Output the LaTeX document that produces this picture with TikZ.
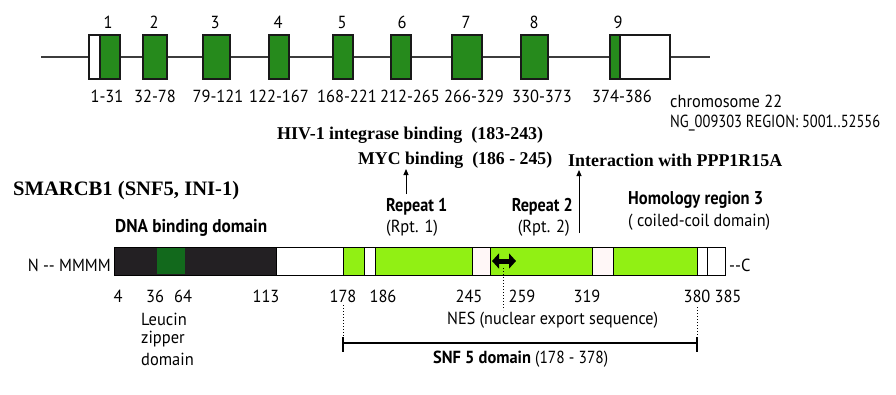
\documentclass[tikz,border=0pt]{standalone}
\usepackage{fontspec}
\usepackage{graphicx}
\setmainfont{Liberation Serif}
\setsansfont{PT Sans}
\usetikzlibrary{arrows.meta}
\definecolor{exgreen}{RGB}{38,138,28}
\definecolor{dkgreen}{RGB}{18,105,28}
\definecolor{lime}{RGB}{145,240,20}
\definecolor{dkbar}{RGB}{35,32,35}
\definecolor{gline}{RGB}{60,60,60}
\newfontfamily\rsf[FakeStretch=0.94]{PT Sans}
\newcommand\fitto[2]{\resizebox{#1}{\height}{#2}}
\tikzset{
  exon/.style={draw=black!90,line width=1.1pt,fill=exgreen,inner sep=0pt,minimum height=44pt},
  utr/.style={draw=black!90,line width=1.1pt,fill=white,inner sep=0pt,minimum height=44pt},
  lbl/.style={font=\rsf\fontsize{17.5}{20}\selectfont,inner sep=0pt},
  blbl/.style={font=\sffamily\bfseries\fontsize{18.5}{20}\selectfont,inner sep=0pt},
  slbl/.style={font=\rmfamily\bfseries\fontsize{18}{20}\selectfont,inner sep=0pt},
  seg/.style={draw=black,line width=1pt,inner sep=0pt,minimum height=28pt},
  uparrow/.style={-{Triangle[length=6pt,width=5pt]},line width=1pt},
  dotline/.style={dotted,line width=1pt},
}
\begin{document}
\begin{tikzpicture}[x=1pt,y=-1pt]
\useasboundingbox (0,0) rectangle (896,394);
% gene line
\coordinate (gl) at (41,57);
\coordinate (gr) at (710,57);
\draw[gline,line width=1.3pt] (gl) -- (gr);
% exons
\node[utr,minimum width=11pt] (u1) at (94.5,57) {};
\node[exon,minimum width=20pt] (e1) at (110,57) {};
\node[exon,minimum width=24pt] (e2) at (155,57) {};
\node[exon,minimum width=27pt] (e3) at (216.5,57) {};
\node[exon,minimum width=20pt] (e4) at (279,57) {};
\node[exon,minimum width=20pt] (e5) at (343,57) {};
\node[exon,minimum width=20pt] (e6) at (401,57) {};
\node[exon,minimum width=30pt] (e7) at (467,57) {};
\node[exon,minimum width=27pt] (e8) at (534.5,57) {};
\node[exon,minimum width=10pt] (e9) at (615,57) {};
\node[utr,minimum width=50pt] (u9) at (645,57) {};
% exon numbers
\foreach \n/\x in {1/108,2/154,3/215,4/278,5/342,6/402,7/466,8/534,9/618}
  \node[lbl] (n\n) at (\x,22) {\n};
\foreach \i/\t/\x in {1/1-31/107,2/32-78/155,3/79-121/218,4/122-167/279,5/168-221/347,6/212-265/410,7/266-329/474,8/330-373/542,9/374-386/622}
  \node[lbl] (r\i) at (\x,96) {\t};
\node[lbl,anchor=west] (chr) at (670,101) {\fitto{112pt}{chromosome 22}};
\node[lbl,anchor=west] (ng) at (670,123) {\fitto{210pt}{NG\_009303 REGION: 5001..52556}};
% binding labels
\node[slbl,anchor=west] (hiv) at (277,135) {\fitto{266pt}{HIV-1 integrase binding\ \ (183-243)}};
\node[slbl,anchor=west] (myc) at (358,160) {\fitto{194pt}{MYC binding\ \ (186 - 245)}};
\node[slbl,anchor=west] (ppp) at (568,160) {\fitto{214pt}{Interaction with PPP1R15A}};
\node[font=\rmfamily\bfseries\fontsize{20.5}{23}\selectfont,inner sep=0pt,anchor=west] (title) at (13,191) {\fitto{226pt}{SMARCB1 (SNF5, INI-1)}};
\node[blbl,anchor=west] (dna) at (115,228) {\fitto{152pt}{DNA binding domain}};
\node[blbl,anchor=west] (rep1) at (386,207) {\fitto{61pt}{Repeat 1}};
\node[lbl,anchor=west] (rpt1) at (386,228) {(Rpt. 1)};
\node[blbl,anchor=east] (rep2) at (573,207) {\fitto{61pt}{Repeat 2}};
\node[lbl,anchor=east] (rpt2) at (570,228) {(Rpt. 2)};
\node[blbl,anchor=west] (hom) at (628,200) {\fitto{135pt}{Homology region 3}};
\node[lbl,anchor=west] (cc) at (628,222) {\fitto{142pt}{( coiled-coil domain)}};
\coordinate (a1s) at (406,194);
\coordinate (a2s) at (579,233);
\draw[uparrow] (a1s) -- (406,169);
\draw[uparrow] (a2s) -- (579,170);
% protein bar
\node[seg,fill=dkbar,minimum width=162pt] (s1) at (195,261) {};
\node[inner sep=0pt,fill=dkgreen,minimum width=28pt,minimum height=26pt] (lz) at (171,261) {};
\node[seg,fill=white,minimum width=67pt] (s2) at (309.5,261) {};
\node[seg,fill=lime,minimum width=21pt] (s3) at (353.5,261) {};
\node[seg,fill=white,minimum width=11pt] (s4) at (369.5,261) {};
\node[seg,fill=lime,minimum width=97pt] (s5) at (423.5,261) {};
\node[seg,fill=white!97!red,minimum width=18pt] (s6) at (481,261) {};
\node[seg,fill=lime,minimum width=102pt] (s7) at (541,261) {};
\node[seg,fill=white!97!red,minimum width=21pt] (s8) at (602.5,261) {};
\node[seg,fill=lime,minimum width=84pt] (s9) at (655,261) {};
\node[seg,fill=white,minimum width=10pt] (s10) at (702,261) {};
\node[seg,fill=white,minimum width=18pt] (s11) at (716,261) {};
\node[lbl,anchor=east] (nterm) at (111,265) {\fitto{83pt}{N {-}{-} MMMM}};
\node[lbl,anchor=west] (cterm) at (729,265) {{-}{-}C};
% NES arrow
\coordinate (nesl) at (492,261);
\coordinate (nesr) at (516,261);
\draw[line width=5pt,{Triangle[length=7pt,width=15pt]}-{Triangle[length=7pt,width=15pt]}] (nesl) -- (nesr);
\coordinate (nesd) at (503,310);
\draw[dotline] (503,268) -- (nesd);
% positions
\foreach \t/\x in {4/118,36/155,64/183,113/266,178/343,186/383,245/469,259/522,319/587,380/697,385/728}
  \node[lbl] (p\t) at (\x,296) {\t};
\node[lbl,anchor=west] (leu) at (141,319) {Leucin};
\node[lbl,anchor=west] (zip) at (141,339) {zipper};
\node[lbl,anchor=west] (dom) at (141,359) {domain};
\node[lbl,anchor=west] (nes) at (447,320) {\fitto{211pt}{NES (nuclear export sequence)}};
% SNF5 bracket
\coordinate (bl) at (343,343);
\coordinate (br) at (697,343);
\draw[dotline] (343,305) -- (343,338);
\draw[dotline] (697,307) -- (697,338);
\draw[line width=1.1pt] (bl) -- (br);
\draw[line width=1.1pt] (343,337) -- (343,352);
\draw[line width=1.1pt] (697,337) -- (697,352);
\node[lbl,anchor=west] (snf) at (433,359) {\fitto{175pt}{{\sffamily\bfseries SNF 5 domain} (178 - 378)}};
\end{tikzpicture}
\end{document}
